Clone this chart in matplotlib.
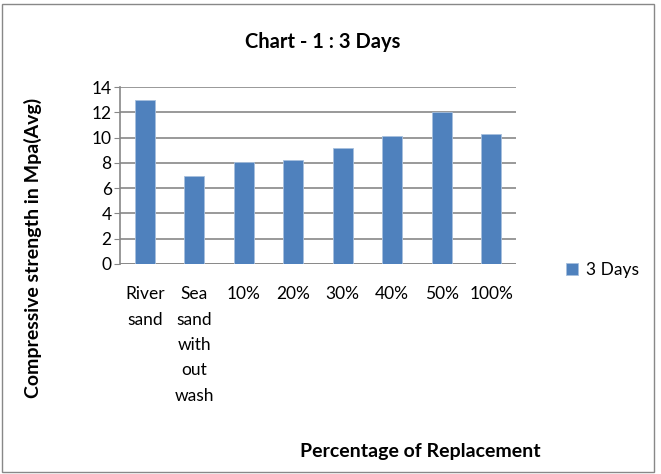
import matplotlib.pyplot as plt
from matplotlib.patches import Rectangle
import numpy as np

categories = ["River\nsand", "Sea\nsand\nwith\nout\nwash", "10%", "20%", "30%", "40%", "50%", "100%"]
strength_3_days = [13.0, 7.0, 8.08, 8.24, 9.17, 10.12, 12.02, 10.30]
series_name = "3 Days"
y_ticks = [0, 2, 4, 6, 8, 10, 12, 14]

plt.rcParams["font.family"] = ["Lato", "DejaVu Sans"]

W, H = 661, 474
fig = plt.figure(figsize=(W / 100, H / 100), dpi=100)
ax = fig.add_axes([120 / W, 1 - 264 / H, 396 / W, 177 / H])

x = np.arange(len(categories))
bars = ax.bar(x, strength_3_days, width=0.41, color="#4f81bd", edgecolor="#a7c0de",
              linewidth=0.6, label=series_name, zorder=3)

ax.set_xlim(-0.5, len(categories) - 0.5)
ax.set_ylim(0, 14)
ax.set_yticks(y_ticks)
ax.set_xticks(x)
ax.set_xticklabels(categories, fontsize=12.5, linespacing=1.72, va="top")
ax.tick_params(axis="y", labelsize=12.5, length=4, color="#878787", pad=2)
ax.tick_params(axis="x", length=0, pad=16)
ax.grid(axis="y", color="#878787", linewidth=1.2, zorder=0)
for side in ["top", "right", "bottom"]:
    ax.spines[side].set_visible(False)
ax.spines["left"].set_color("#878787")
ax.spines["left"].set_linewidth(1.2)
ax.axhline(0, color="#878787", linewidth=1.2, zorder=2)

fig.text(323 / W, 1 - 42 / H, "Chart - 1 : 3 Days", ha="center", va="center",
         fontsize=14.5, fontweight="bold")
fig.text(33 / W, 1 - 248 / H, "Compressive strength in Mpa(Avg)", ha="center", va="center",
         rotation=90, fontsize=14, fontweight="bold")
fig.text(420 / W, 1 - 452 / H, "Percentage of Replacement", ha="center", va="center",
         fontsize=14, fontweight="bold")

fig.legend(handles=[bars], labels=[series_name], loc="center left",
           bbox_to_anchor=(550 / W, 1 - 270 / H), frameon=False, fontsize=12.5,
           handlelength=0.7, handleheight=0.7, handletextpad=0.5)

fig.patches.append(Rectangle((2 / W, 2 / H), 652 / W, 468 / H, transform=fig.transFigure,
                             fill=False, edgecolor="#888888", linewidth=1.0))

fig.savefig("out.png", dpi=100)
